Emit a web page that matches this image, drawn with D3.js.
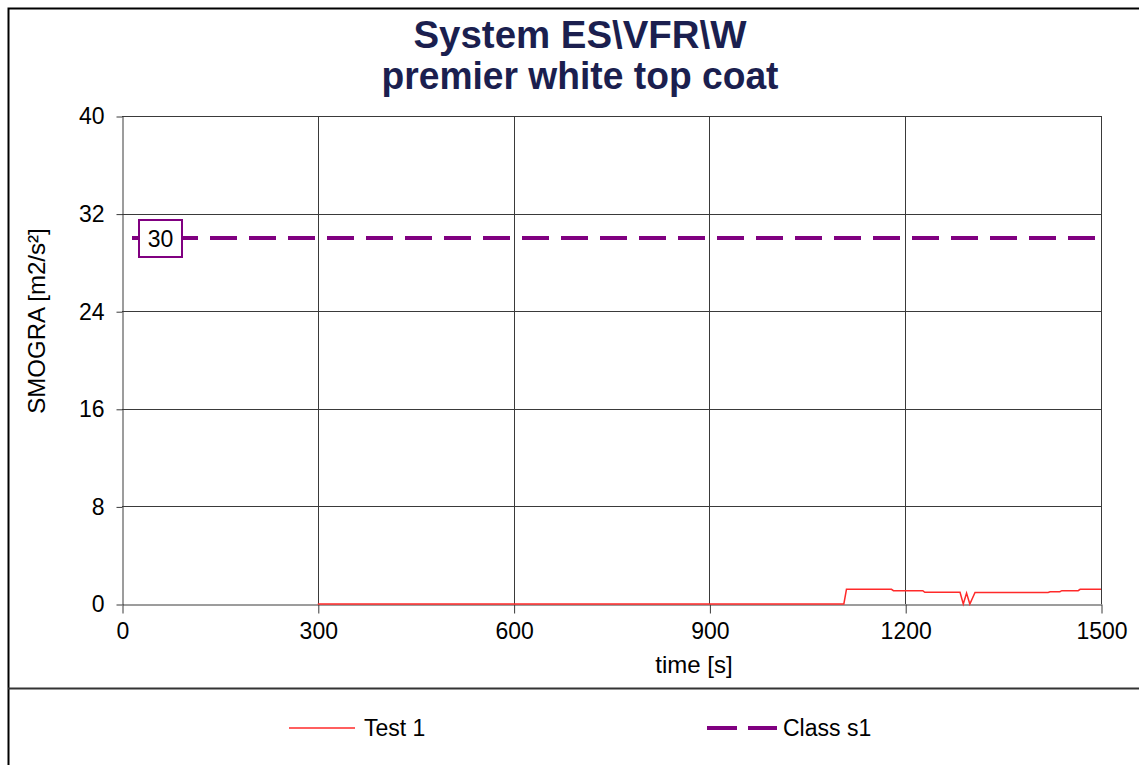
<!DOCTYPE html>
<html>
<head>
<meta charset="utf-8">
<script src="https://cdn.jsdelivr.net/npm/d3@7"></script>
<style>
  html, body { margin: 0; padding: 0; background: #fff; }
  svg { display: block; font-family: "Liberation Sans", Arial, sans-serif; }
</style>
</head>
<body>
<svg id="chart" width="1139" height="765"></svg>
<script>
// Test 1 SMOGRA curve: time [s] and value [m2/s²]
const testTime  = [300, 1106, 1110, 1179, 1182, 1227, 1230, 1284, 1289, 1294, 1299, 1307, 1419, 1422, 1437, 1440, 1465, 1468, 1500];
const testValue = [0,   0,    1.2,  1.2,  1.09, 1.09, 0.96, 0.96, 0,    0.9,  0,    0.95, 0.95, 1.01, 1.01, 1.09, 1.09, 1.2,  1.2];

// Class s1 limit
const classTime  = [0, 1500];
const classValue = [30, 30];
const classLabel = 30;

const xTicks = [0, 300, 600, 900, 1200, 1500];
const yTicks = [0, 8, 16, 24, 32, 40];

const titleLines = ["System ES\\VFR\\W", "premier white top coat"];
const seriesNames = ["Test 1", "Class s1"];

const svg = d3.select("#chart");
const W = 1139, H = 765;
const plot = { left: 122, right: 1101, top: 116, bottom: 604 };

const x = d3.scaleLinear().domain([0, 1500]).range([plot.left, plot.right]);
const y = d3.scaleLinear().domain([0, 40]).range([plot.bottom, plot.top]);

// outer frame and legend separator
svg.append("rect").attr("x", 8.5).attr("y", 8.5).attr("width", W + 10).attr("height", H + 10)
  .attr("fill", "#fff").attr("stroke", "#000").attr("stroke-width", 2);
svg.append("line").attr("x1", 8).attr("x2", W).attr("y1", 688.5).attr("y2", 688.5)
  .attr("stroke", "#333").attr("stroke-width", 2);

// title, slightly condensed
const titleWidths = [333, 397];
titleLines.forEach((t, i) => {
  svg.append("text").attr("text-anchor", "middle")
    .attr("x", 580).attr("y", 48 + i * 41)
    .attr("fill", "#1b1f4f").attr("font-weight", "bold").attr("font-size", 39)
    .attr("textLength", titleWidths[i]).attr("lengthAdjust", "spacingAndGlyphs")
    .text(t);
});

// grid
const grid = svg.append("g").attr("stroke", "#3a3a3a").attr("stroke-width", 1);
grid.selectAll(".gx").data(xTicks.filter(d => d > 0)).join("line")
  .attr("x1", d => Math.round(x(d)) + 0.5).attr("x2", d => Math.round(x(d)) + 0.5)
  .attr("y1", plot.top).attr("y2", plot.bottom);
grid.selectAll(".gy").data(yTicks.filter(d => d > 0)).join("line")
  .attr("y1", d => Math.round(y(d)) + 0.5).attr("y2", d => Math.round(y(d)) + 0.5)
  .attr("x1", plot.left).attr("x2", plot.right);

// axes
const fmt = d3.format("d");
const xAxis = svg.append("g").attr("transform", `translate(0.5,${plot.bottom + 0.5})`)
  .call(d3.axisBottom(x).tickValues(xTicks).tickFormat(fmt).tickSize(9).tickSizeOuter(0).tickPadding(9));
const yAxis = svg.append("g").attr("transform", `translate(${plot.left + 0.5},0.5)`)
  .call(d3.axisLeft(y).tickValues(yTicks).tickFormat(fmt).tickSize(6).tickSizeOuter(0).tickPadding(12));
[xAxis, yAxis].forEach(a => {
  a.selectAll("path, line").attr("stroke", "#3a3a3a");
  a.selectAll("text").attr("font-size", 23).attr("fill", "#000")
    .attr("font-family", "'Liberation Sans', Arial, sans-serif");
});

// axis titles
svg.append("text").attr("x", 694).attr("y", 673).attr("text-anchor", "middle")
  .attr("font-size", 24).text("time [s]");
svg.append("text").attr("transform", "translate(45,321) rotate(-90)").attr("text-anchor", "middle")
  .attr("font-size", 24).text("SMOGRA [m2/s²]");

// Class s1 dashed limit
const line = d3.line().x(d => x(d[0])).y(d => y(d[1]));
svg.append("path").datum(d3.zip(classTime, classValue)).attr("d", line)
  .attr("fill", "none").attr("stroke", "#800080").attr("stroke-width", 4)
  .attr("stroke-dasharray", "27,12").attr("stroke-dashoffset", -10);

// Test 1 curve
svg.append("path").datum(d3.zip(testTime, testValue)).attr("d", line)
  .attr("fill", "none").attr("stroke", "#ff2a2a").attr("stroke-width", 1.5);

// value label on the limit
const lx = x(0) + 38, ly = y(classLabel);
svg.append("rect").attr("x", lx - 21).attr("y", ly - 18).attr("width", 43).attr("height", 37)
  .attr("fill", "#fff").attr("stroke", "#800080").attr("stroke-width", 2);
svg.append("text").attr("x", lx + 0.5).attr("y", ly + 9).attr("text-anchor", "middle")
  .attr("font-size", 23).text(classLabel);

// legend
const legendY = 728;
svg.append("line").attr("x1", 289).attr("x2", 355).attr("y1", legendY).attr("y2", legendY)
  .attr("stroke", "#ff2a2a").attr("stroke-width", 1.5);
svg.append("text").attr("x", 364).attr("y", legendY + 8).attr("font-size", 23).text(seriesNames[0]);
svg.append("line").attr("x1", 707).attr("x2", 777).attr("y1", legendY).attr("y2", legendY)
  .attr("stroke", "#800080").attr("stroke-width", 4).attr("stroke-dasharray", "30,11");
svg.append("text").attr("x", 783).attr("y", legendY + 8).attr("font-size", 23).text(seriesNames[1]);
</script>
</body>
</html>
